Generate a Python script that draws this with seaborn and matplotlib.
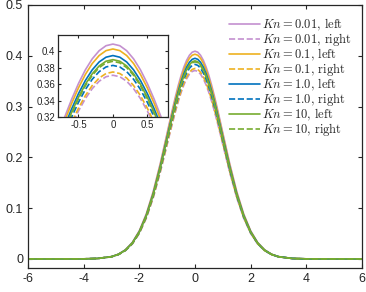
import numpy as np
import pandas as pd
import seaborn as sns
import matplotlib.pyplot as plt

# values
x = [-6, -5, -4, -3.5, -3, -2.75, -2.5, -2.25, -2, -1.75, -1.5, -1.25, -1,
     -0.9, -0.8, -0.7, -0.6, -0.5, -0.4, -0.3, -0.2, -0.1, 0,
     0.1, 0.2, 0.3, 0.4, 0.5, 0.6, 0.7, 0.8, 0.9,
     1, 1.25, 1.5, 1.75, 2, 2.25, 2.5, 2.75, 3, 3.5, 4, 5, 6]

kn001_left = [0, 0, 0.0001, 0.0009, 0.0045, 0.0093, 0.0180, 0.0325, 0.0554, 0.0885, 0.1328, 0.1873, 0.2481,
              0.2728, 0.2970, 0.3201, 0.3416, 0.3609, 0.3776, 0.3910, 0.4009, 0.4070, 0.4090,
              0.4070, 0.4009, 0.3910, 0.3776, 0.3609, 0.3416, 0.3201, 0.2970, 0.2728,
              0.2481, 0.1873, 0.1328, 0.0885, 0.0554, 0.0325, 0.0180, 0.0093, 0.0045, 0.0009, 0.0001, 0, 0]
kn001_right = [0, 0, 0.0001, 0.0008, 0.0041, 0.0085, 0.0163, 0.0295, 0.0502, 0.0802, 0.1204, 0.1699, 0.2250,
               0.2475, 0.2694, 0.2904, 0.3099, 0.3274, 0.3425, 0.3547, 0.3637, 0.3692, 0.3710,
               0.3692, 0.3637, 0.3547, 0.3425, 0.3274, 0.3099, 0.2904, 0.2694, 0.2475,
               0.2250, 0.1699, 0.1204, 0.0802, 0.0502, 0.0295, 0.0163, 0.0085, 0.0041, 0.0008, 0.0001, 0, 0]
kn01_left = [0, 0, 0.0001, 0.0009, 0.0045, 0.0092, 0.0177, 0.0321, 0.0545, 0.0872, 0.1308, 0.1845, 0.2444,
             0.2688, 0.2926, 0.3154, 0.3366, 0.3556, 0.3720, 0.3853, 0.3950, 0.4010, 0.4030,
             0.4010, 0.3950, 0.3853, 0.3720, 0.3556, 0.3366, 0.3154, 0.2926, 0.2688,
             0.2444, 0.1845, 0.1308, 0.0872, 0.0545, 0.0321, 0.0177, 0.0092, 0.0045, 0.0009, 0.0001, 0, 0]
kn01_right = [0, 0, 0.0001, 0.0008, 0.0042, 0.0085, 0.0165, 0.0298, 0.0508, 0.0811, 0.1217, 0.1717, 0.2274,
              0.2501, 0.2723, 0.2935, 0.3132, 0.3309, 0.3462, 0.3585, 0.3676, 0.3731, 0.3750,
              0.3731, 0.3676, 0.3585, 0.3462, 0.3309, 0.3132, 0.2935, 0.2723, 0.2501,
              0.2274, 0.1717, 0.1217, 0.0811, 0.0508, 0.0298, 0.0165, 0.0085, 0.0042, 0.0008, 0.0001, 0, 0]
kn1_left = [0, 0, 0.0001, 0.0009, 0.0044, 0.0090, 0.0174, 0.0314, 0.0535, 0.0854, 0.1282, 0.1808, 0.2396,
            0.2635, 0.2868, 0.3092, 0.3299, 0.3486, 0.3646, 0.3776, 0.3872, 0.3930, 0.3950,
            0.3930, 0.3872, 0.3776, 0.3646, 0.3486, 0.3299, 0.3092, 0.2868, 0.2635,
            0.2396, 0.1808, 0.1282, 0.0854, 0.0535, 0.0314, 0.0174, 0.0090, 0.0044, 0.0009, 0.0001, 0, 0]
kn1_right = [0, 0, 0.0001, 0.0008, 0.0043, 0.0087, 0.0168, 0.0305, 0.0518, 0.0828, 0.1243, 0.1753, 0.2323,
             0.2555, 0.2781, 0.2998, 0.3199, 0.3380, 0.3536, 0.3661, 0.3754, 0.3811, 0.3830,
             0.3811, 0.3754, 0.3661, 0.3536, 0.3380, 0.3199, 0.2998, 0.2781, 0.2555,
             0.2323, 0.1753, 0.1243, 0.0828, 0.0518, 0.0305, 0.0168, 0.0087, 0.0043, 0.0008, 0.0001, 0, 0]
kn10_left = [0, 0, 0.0001, 0.0009, 0.0043, 0.0089, 0.0171, 0.0310, 0.0528, 0.0843, 0.1266, 0.1786, 0.2365,
             0.2601, 0.2832, 0.3053, 0.3258, 0.3442, 0.3600, 0.3728, 0.3823, 0.3881, 0.3900,
             0.3881, 0.3823, 0.3728, 0.3600, 0.3442, 0.3258, 0.3053, 0.2832, 0.2601,
             0.2365, 0.1786, 0.1266, 0.0843, 0.0528, 0.0310, 0.0171, 0.0089, 0.0043, 0.0009, 0.0001, 0, 0]
kn10_right = [0, 0, 0.0001, 0.0008, 0.0043, 0.0088, 0.0170, 0.0309, 0.0525, 0.0839, 0.1260, 0.1776, 0.2353,
              0.2588, 0.2817, 0.3037, 0.3241, 0.3424, 0.3582, 0.3709, 0.3803, 0.3861, 0.3880,
              0.3861, 0.3803, 0.3709, 0.3582, 0.3424, 0.3241, 0.3037, 0.2817, 0.2588,
              0.2353, 0.1776, 0.1260, 0.0839, 0.0525, 0.0309, 0.0170, 0.0088, 0.0043, 0.0008, 0.0001, 0, 0]

series = [
    (kn001_left, r'$Kn = 0.01$, left', '#C490CF', '-'),
    (kn001_right, r'$Kn = 0.01$, right', '#C490CF', '--'),
    (kn01_left, r'$Kn = 0.1$, left', '#EDB120', '-'),
    (kn01_right, r'$Kn = 0.1$, right', '#EDB120', '--'),
    (kn1_left, r'$Kn = 1.0$, left', '#0072BD', '-'),
    (kn1_right, r'$Kn = 1.0$, right', '#0072BD', '--'),
    (kn10_left, r'$Kn = 10$, left', '#77AC30', '-'),
    (kn10_right, r'$Kn = 10$, right', '#77AC30', '--'),
]

sns.set_theme(style='ticks')
plt.rcParams['font.family'] = ['Liberation Sans', 'DejaVu Sans']
plt.rcParams['mathtext.fontset'] = 'cm'
plt.rcParams['axes.unicode_minus'] = False

fig = plt.figure(figsize=(3.66, 2.92), dpi=100)
ax = fig.add_axes([0.0765, 0.082, 0.9125, 0.901])
ins = fig.add_axes([0.158, 0.599, 0.301, 0.281])

for y, lab, col, ls in series:
    sns.lineplot(x=x, y=y, ax=ax, color=col, linestyle=ls, lw=1.2, label=lab)
    sns.lineplot(x=x, y=y, ax=ins, color=col, linestyle=ls, lw=1.2, legend=False)

ax.set_xlim(-6, 6)
ax.set_ylim(-0.018, 0.5)
ax.set_xticks([-6, -4, -2, 0, 2, 4, 6])
ax.set_yticks([0, 0.1, 0.2, 0.3, 0.4, 0.5])
ax.set_yticklabels(['0', '0.1', '0.2', '0.3', '0.4', '0.5'])
ax.tick_params(direction='in', top=True, right=True, labelsize=9, length=3, width=0.8, colors='#262626')

ins.set_xlim(-0.8, 0.8)
ins.set_ylim(0.32, 0.42)
ins.set_xticks([-0.5, 0, 0.5])
ins.set_xticklabels(['-0.5', '0', '0.5'])
ins.set_yticks([0.32, 0.34, 0.36, 0.38, 0.4])
ins.set_yticklabels(['0.32', '0.34', '0.36', '0.38', '0.4'])
ins.tick_params(direction='in', top=True, right=True, labelsize=7, length=2, width=0.8, pad=2, colors='#262626')

for a in (ax, ins):
    for s in a.spines.values():
        s.set_linewidth(0.9)
        s.set_color('#262626')

ax.legend(loc='upper right', bbox_to_anchor=(0.985, 0.975), frameon=False,
          prop={'family': 'cmr10', 'size': 9},
          handlelength=2.5, labelspacing=-0.13, borderaxespad=0.0, handletextpad=0.15)

plt.savefig('out.png', dpi=100)
